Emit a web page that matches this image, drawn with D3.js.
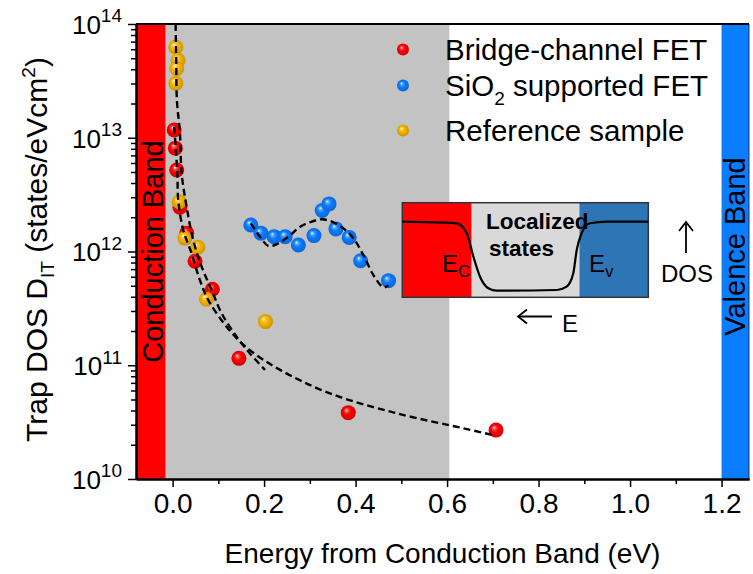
<!DOCTYPE html>
<html>
<head>
<meta charset="utf-8">
<script src="https://cdn.jsdelivr.net/npm/d3@7/dist/d3.min.js"></script>
<style>
  html, body { margin: 0; padding: 0; background: #fff; }
  svg { display: block; font-family: "Liberation Sans", Arial, sans-serif; }
</style>
</head>
<body>
<svg id="chart" width="753" height="574"></svg>
<script>
// ---- measured trap densities (energy in eV below conduction band, DOS in states/eVcm^2)
const bridgeEnergy = [0.0035, 0.006, 0.009, 0.016, 0.031, 0.049, 0.087, 0.145, 0.384, 0.707];
const bridgeDos    = [1.17e13, 8.1e12, 5.2e12, 2.45e12, 1.45e12, 8.2e11, 4.66e11, 1.15e11, 3.83e10, 2.69e10];

const sio2Energy = [0.171, 0.193, 0.222, 0.246, 0.275, 0.309, 0.327, 0.342, 0.357, 0.386, 0.411, 0.472];
const sio2Dos    = [1.71e12, 1.45e12, 1.35e12, 1.35e12, 1.14e12, 1.38e12, 2.29e12, 2.62e12, 1.58e12, 1.33e12, 8.3e11, 5.54e11];

const refEnergy = [0.007, 0.012, 0.009, 0.007, 0.0145, 0.027, 0.055, 0.074, 0.203];
const refDos    = [6.24e13, 4.8e13, 4.07e13, 3.01e13, 2.74e12, 1.31e12, 1.09e12, 3.8e11, 2.42e11];

// ---- guide-to-the-eye fit curves
const fitSteepEnergy = [0.0066, 0.0079, 0.0094, 0.016, 0.0197, 0.0306, 0.0451, 0.0635, 0.0853, 0.107, 0.140, 0.169, 0.202];
const fitSteepDos    = [1e14, 4.83e13, 2.15e13, 1.1e13, 4.9e12, 2.48e12, 1.26e12, 7.35e11, 4.59e11, 2.87e11, 1.78e11, 1.27e11, 9.1e10];

const fitTailEnergy = [0.0035, 0.0072, 0.0105, 0.0123, 0.0232, 0.0416, 0.0597, 0.0779, 0.118, 0.162, 0.235, 0.344, 0.490, 0.636, 0.699];
const fitTailDos    = [1.245e13, 7.8e12, 4.7e12, 2.84e12, 1.55e12, 9.6e11, 5.6e11, 3.75e11, 2.18e11, 1.43e11, 9.1e10, 5.66e10, 3.78e10, 2.79e10, 2.44e10];

const fitSio2Energy = [0.171, 0.191, 0.209, 0.228, 0.253, 0.279, 0.304, 0.326, 0.348, 0.373, 0.395, 0.417, 0.439, 0.461, 0.472];
const fitSio2Dos    = [1.77e12, 1.35e12, 1.12e12, 1.16e12, 1.35e12, 1.65e12, 1.83e12, 1.92e12, 1.83e12, 1.6e12, 1.31e12, 9.3e11, 6.2e11, 4.84e11, 5.07e11];

// ---- shaded energy regions
const regionStart = [-0.08, -0.015, 1.2];
const regionEnd   = [-0.015, 0.605, 1.26];
const regionColor = ["#ff0000", "#c3c3c3", "#0a7cff"];

// ---- axis ticks
const xMajorTicks = [0.0, 0.2, 0.4, 0.6, 0.8, 1.0, 1.2];
const xMinorTicks = [0.1, 0.3, 0.5, 0.7, 0.9, 1.1];
const yMajorTicks = [1e10, 1e11, 1e12, 1e13, 1e14];
const yExponents  = ["10", "11", "12", "13", "14"];

// ---- legend
const seriesNames  = ["Bridge-channel FET", "SiO", "Reference sample"];
const seriesColors = ["#ff0000", "#0a7cff", "#f5b400"];

// ---- inset schematic: band sections and DOS profile (position 0..1 across the box, DOS 0..1)
const insetSectionStart = [0, 0.282, 0.72];
const insetSectionEnd   = [0.282, 0.72, 1];
const insetSectionColor = ["#ff0000", "#d9d9d9", "#2e75b6"];
const insetPos = [0, 0.221, 0.262, 0.289, 0.316, 0.350, 0.384, 0.628, 0.668, 0.695, 0.709, 0.729, 0.763, 0.831, 1.0];
const insetDos = [1, 0.977, 0.832, 0.493, 0.203, 0.035, 0, 0.01, 0.058, 0.252, 0.59, 0.832, 0.977, 1, 1];

const svg = d3.select("#chart");
const plotL = 136, plotR = 749, plotT = 24, plotB = 479;

const x = d3.scaleLinear().domain([-0.08, 1.26]).range([plotL, plotR]);
const y = d3.scaleLog().domain([1e10, 1e14]).range([plotB, plotT]);

// glossy sphere gradients
const defs = svg.append("defs");
seriesColors.forEach((c, i) => {
  const g = defs.append("radialGradient").attr("id", "ball" + i)
    .attr("cx", "50%").attr("cy", "50%").attr("r", "55%")
    .attr("fx", "36%").attr("fy", "32%");
  g.append("stop").attr("offset", "0%").attr("stop-color", "#ffffff");
  g.append("stop").attr("offset", "18%").attr("stop-color", d3.interpolateRgb(c, "#fff")(0.35));
  g.append("stop").attr("offset", "45%").attr("stop-color", c);
  g.append("stop").attr("offset", "100%").attr("stop-color", d3.color(c).darker(0.6));
});

// background regions
svg.append("g").selectAll("rect").data(regionStart).join("rect")
  .attr("x", (d) => x(d))
  .attr("y", plotT)
  .attr("width", (d, i) => x(regionEnd[i]) - x(d))
  .attr("height", plotB - plotT)
  .attr("fill", (d, i) => regionColor[i]);

// frame: top and right
svg.append("line").attr("x1", plotL).attr("x2", plotR).attr("y1", plotT).attr("y2", plotT)
  .attr("stroke", "#000").attr("stroke-width", 2);
svg.append("line").attr("x1", plotR).attr("x2", plotR).attr("y1", plotT).attr("y2", plotB)
  .attr("stroke", "#333").attr("stroke-width", 1);

// band labels
svg.append("text").attr("transform", `translate(${x(-0.0475) + 12},${(plotT + plotB) / 2}) rotate(-90)`)
  .attr("text-anchor", "middle").attr("font-size", 29).attr("fill", "#000").text("Conduction Band");
svg.append("text").attr("transform", `translate(${x(1.23) + 10},${(plotT + plotB) / 2 - 5}) rotate(-90)`)
  .attr("text-anchor", "middle").attr("font-size", 29).attr("fill", "#000").text("Valence Band");

// axes
const xAxisMinor = d3.axisBottom(x).tickValues(xMinorTicks).tickSize(5).tickSizeOuter(0).tickFormat("");
const xAxis = d3.axisBottom(x).tickValues(xMajorTicks).tickSize(8).tickSizeOuter(0).tickPadding(6).tickFormat(d3.format(".1f"));
const yMinor = [];
for (let e = 10; e < 14; e++) for (let m = 2; m <= 9; m++) yMinor.push(m * Math.pow(10, e));
const yAxisMinor = d3.axisLeft(y).tickValues(yMinor).tickSize(5).tickSizeOuter(0).tickFormat("");
const yAxis = d3.axisLeft(y).tickValues(yMajorTicks).tickSize(8).tickSizeOuter(0).tickFormat("");

function styleAxis(g) {
  g.select(".domain").attr("stroke", "#000").attr("stroke-width", 2);
  g.selectAll(".tick line").attr("stroke", "#000").attr("stroke-width", 1.5);
}
svg.append("g").attr("transform", `translate(0,${plotB})`).call(xAxisMinor).call(styleAxis);
const gx = svg.append("g").attr("transform", `translate(0,${plotB})`).call(xAxis).call(styleAxis);
gx.selectAll(".tick text").attr("font-size", 28).attr("fill", "#000")
  .attr("font-family", "'Liberation Sans', Arial, sans-serif");

svg.append("g").attr("transform", `translate(${plotL},0)`).call(yAxisMinor).call(styleAxis);
const gy = svg.append("g").attr("transform", `translate(${plotL},0)`).call(yAxis).call(styleAxis);
gy.selectAll(".tick").each(function (d) {
  const t = d3.select(this).append("text")
    .attr("x", -14).attr("dy", "0.36em").attr("text-anchor", "end")
    .attr("fill", "#000").attr("font-size", 26)
    .attr("font-family", "'Liberation Sans', Arial, sans-serif");
  t.append("tspan").text("10");
  t.append("tspan").attr("font-size", 19).attr("dy", "-0.6em").text(yExponents[yMajorTicks.indexOf(d)]);
});

// axis titles
svg.append("text").attr("x", (plotL + plotR) / 2).attr("y", 563).attr("text-anchor", "middle")
  .attr("font-size", 28).text("Energy from Conduction Band (eV)");
const yt = svg.append("text").attr("transform", `translate(47,${(plotT + plotB) / 2 - 2}) rotate(-90)`)
  .attr("text-anchor", "middle").attr("font-size", 30);
yt.append("tspan").text("Trap DOS D");
yt.append("tspan").attr("font-size", 19).attr("dy", 7).text("IT");
yt.append("tspan").attr("dy", -7).text(" (states/eVcm");
yt.append("tspan").attr("font-size", 19).attr("dy", -12).text("2");
yt.append("tspan").attr("dy", 12).text(")");

// data points
const R = 7.5;
function drawPoints(xs, ys, idx) {
  svg.append("g").selectAll("circle").data(xs).join("circle")
    .attr("cx", (d) => x(d)).attr("cy", (d, i) => y(ys[i])).attr("r", R)
    .attr("fill", `url(#ball${idx})`);
}
drawPoints(bridgeEnergy, bridgeDos, 0);
drawPoints(refEnergy, refDos, 2);
drawPoints(sio2Energy, sio2Dos, 1);

// dashed fit curves
const line = d3.line().x((d) => x(d[0])).y((d) => y(d[1])).curve(d3.curveCatmullRom.alpha(0.5));
function drawFit(xs, ys) {
  svg.append("path").datum(xs.map((v, i) => [v, ys[i]])).attr("d", line)
    .attr("fill", "none").attr("stroke", "#000").attr("stroke-width", 2.4)
    .attr("stroke-dasharray", "7,4");
}
drawFit(fitSteepEnergy, fitSteepDos);
drawFit(fitTailEnergy, fitTailDos);
drawFit(fitSio2Energy, fitSio2Dos);

// legend
const legendY = [49.5, 85.5, 130.5];
const lg = svg.append("g");
seriesNames.forEach((name, i) => {
  lg.append("circle").attr("cx", 403).attr("cy", legendY[i]).attr("r", 6).attr("fill", `url(#ball${i})`);
  const t = lg.append("text").attr("x", 445).attr("y", legendY[i]).attr("dy", "0.36em")
    .attr("font-size", 29.5).attr("fill", "#000");
  t.append("tspan").text(name);
  if (name === "SiO") {
    t.append("tspan").attr("font-size", 19).attr("dy", 9).text("2");
    t.append("tspan").attr("dy", -9).text(" supported FET");
  }
});

// inset schematic of the density of states
const ix = d3.scaleLinear().domain([0, 1]).range([402.3, 648.3]);
const iy = d3.scaleLinear().domain([0, 1]).range([290.7, 221.7]);
const inset = svg.append("g");
inset.selectAll("rect").data(insetSectionStart).join("rect")
  .attr("x", (d) => ix(d)).attr("y", 202.7)
  .attr("width", (d, i) => ix(insetSectionEnd[i]) - ix(d)).attr("height", 94.6)
  .attr("fill", (d, i) => insetSectionColor[i]);
inset.append("rect").attr("x", ix(0)).attr("y", 202.7).attr("width", ix(1) - ix(0)).attr("height", 94.6)
  .attr("fill", "none").attr("stroke", "#333").attr("stroke-width", 1.5);
inset.append("path")
  .datum(insetPos.map((p, i) => [p, insetDos[i]]))
  .attr("d", d3.line().x((d) => ix(d[0])).y((d) => iy(d[1])).curve(d3.curveMonotoneX))
  .attr("fill", "none").attr("stroke", "#000").attr("stroke-width", 2.2);
inset.append("text").attr("x", 486).attr("y", 229).attr("font-size", 22.5).attr("font-weight", "bold").text("Localized");
inset.append("text").attr("x", 489).attr("y", 256).attr("font-size", 22.5).attr("font-weight", "bold").text("states");
const ec = inset.append("text").attr("x", 442).attr("y", 272).attr("font-size", 24);
ec.append("tspan").text("E");
ec.append("tspan").attr("font-size", 17).attr("dy", 5).text("C");
const ev = inset.append("text").attr("x", 589).attr("y", 272).attr("font-size", 24);
ev.append("tspan").text("E");
ev.append("tspan").attr("font-size", 17).attr("dy", 5).text("v");

// axis-direction hints for the inset
svg.append("text").attr("x", 687).attr("y", 282).attr("text-anchor", "middle").attr("font-size", 24).text("DOS");
svg.append("line").attr("x1", 686).attr("x2", 686).attr("y1", 253).attr("y2", 224)
  .attr("stroke", "#000").attr("stroke-width", 1.8);
svg.append("path").attr("d", "M679,231 L686,222 L693,231").attr("fill", "none").attr("stroke", "#000").attr("stroke-width", 1.8);
svg.append("line").attr("x1", 519).attr("x2", 552).attr("y1", 316.5).attr("y2", 316.5)
  .attr("stroke", "#000").attr("stroke-width", 1.8);
svg.append("path").attr("d", "M527,309.5 L518,316.5 L527,323.5").attr("fill", "none").attr("stroke", "#000").attr("stroke-width", 1.8);
svg.append("text").attr("x", 562).attr("y", 332).attr("font-size", 24).text("E");
</script>
</body>
</html>
